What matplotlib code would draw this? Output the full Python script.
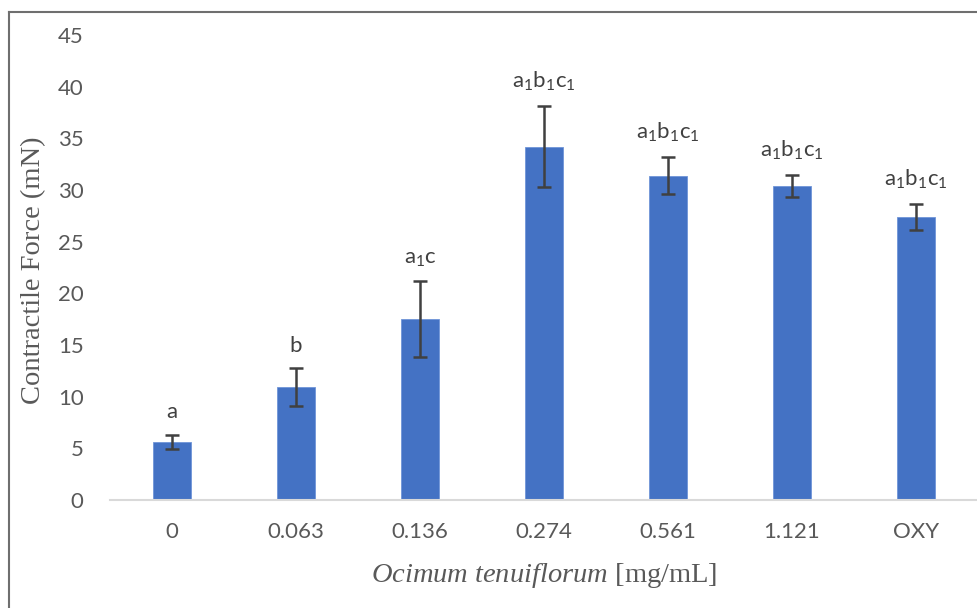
import matplotlib
matplotlib.use("Agg")
import matplotlib.pyplot as plt
from matplotlib.lines import Line2D

categories = ["0", "0.063", "0.136", "0.274", "0.561", "1.121", "OXY"]
values = [5.6, 10.9, 17.5, 34.2, 31.4, 30.4, 27.4]
errors = [0.7, 1.85, 3.65, 3.95, 1.8, 1.1, 1.25]
labels = ["a", "b", "a_1c", "a_1b_1c_1", "a_1b_1c_1", "a_1b_1c_1", "a_1b_1c_1"]
yticks = [0, 5, 10, 15, 20, 25, 30, 35, 40, 45]

plt.rcParams['mathtext.fontset'] = 'custom'
plt.rcParams['mathtext.rm'] = 'Lato'
plt.rcParams['mathtext.it'] = 'Liberation Serif:italic'

tick_color = "#595959"
fig = plt.figure(figsize=(9.77, 6.08), dpi=100)
ax = fig.add_axes([110/977, 1-500/608, 868/977, 465/608])

x = list(range(len(categories)))
ax.bar(x, values, width=0.31, color="#4472C4", edgecolor="#6f95d8", linewidth=0.6, zorder=2)
ax.errorbar(x, values, yerr=errors, fmt="none", ecolor="#404040", elinewidth=1.8,
            capsize=5, capthick=1.8, zorder=3)
for xi, v, e, lab in zip(x, values, errors, labels):
    ax.annotate(r"$\mathrm{%s}$" % lab, (xi, v + e), xytext=(0, 9), textcoords="offset points",
                ha="center", va="bottom", fontsize=16, color="#404040")

ax.set_xlim(-0.5, len(categories) - 0.5)
ax.set_ylim(0, 45)
ax.set_yticks(yticks)
ax.set_xticks(x)
ax.set_xticklabels(categories)
for s in ["top", "right", "left"]:
    ax.spines[s].set_visible(False)
ax.spines["bottom"].set_color("#d9d9d9")
ax.spines["bottom"].set_linewidth(1.5)
ax.tick_params(axis="both", length=0, labelsize=16, labelcolor=tick_color)
ax.tick_params(axis="y", pad=19)
ax.tick_params(axis="x", pad=16)
for t in ax.get_xticklabels() + ax.get_yticklabels():
    t.set_fontfamily("Lato")

ax.set_ylabel("Contractile Force (mN)", fontsize=20.5, fontfamily="Liberation Serif", color=tick_color)
ax.yaxis.set_label_coords(-0.074, 0.495)
ax.set_xlabel(r"$Ocimum\ tenuiflorum$ [mg/mL]", fontsize=20.5, fontfamily="Liberation Serif", color=tick_color)
ax.xaxis.set_label_coords(0.5, -0.132)

fig.add_artist(Line2D([9/977, 9/977], [0, 1-11.5/608], transform=fig.transFigure, color="#6f6f6f", lw=1.5))
fig.add_artist(Line2D([9/977, 1], [1-11.5/608, 1-11.5/608], transform=fig.transFigure, color="#6f6f6f", lw=1.5))

fig.savefig("out.png", dpi=100)
